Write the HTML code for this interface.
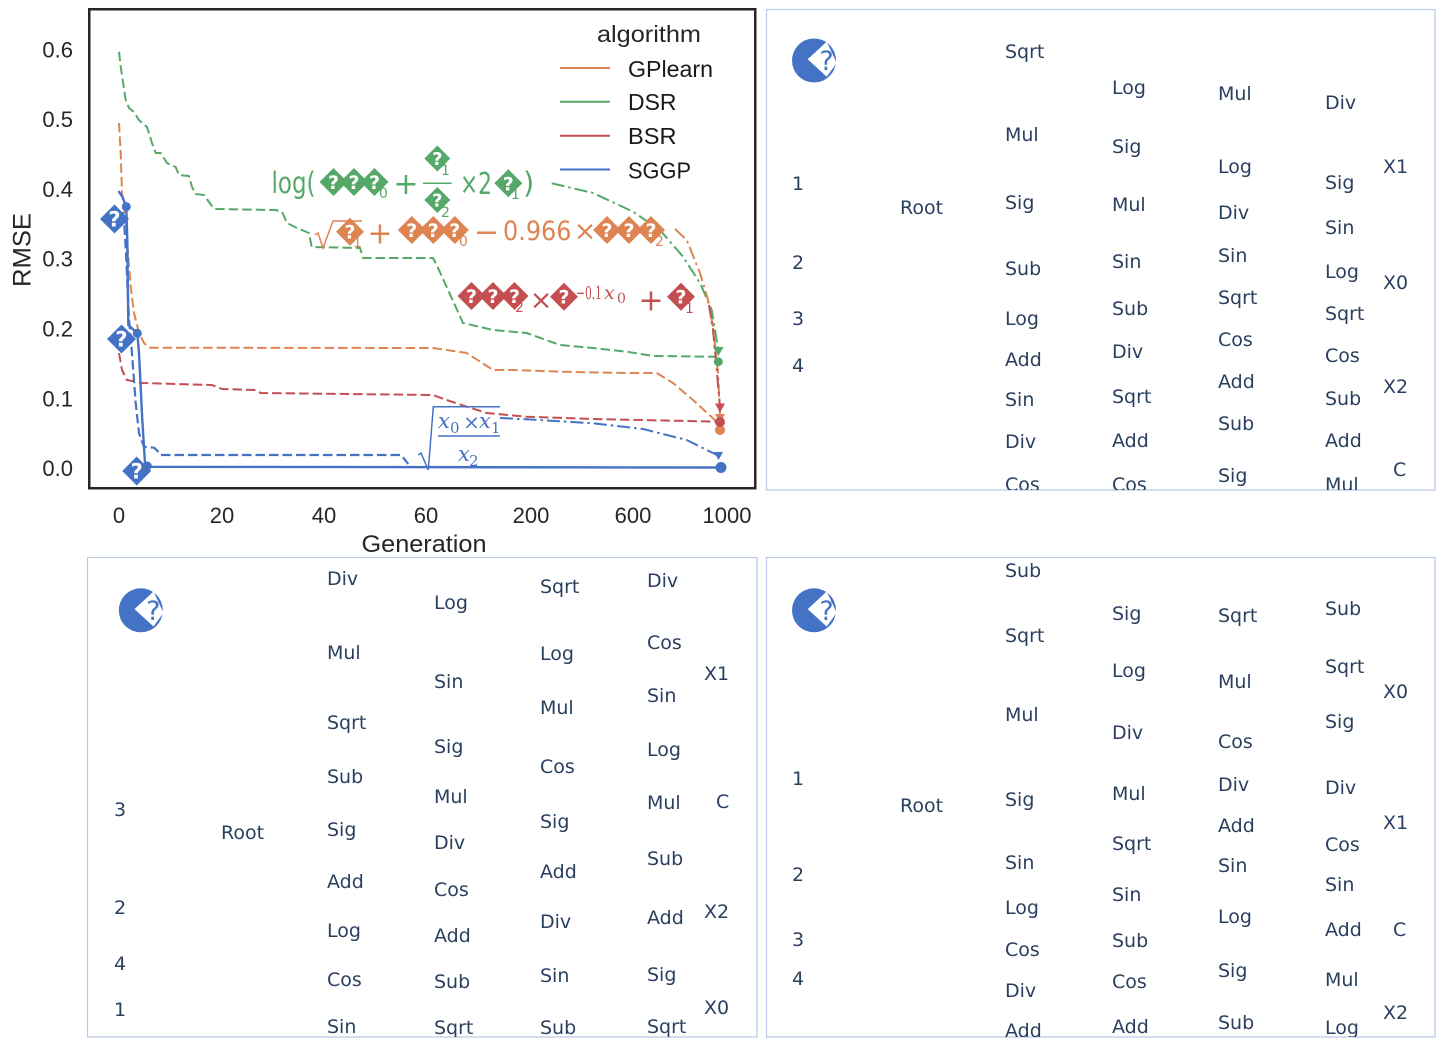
<!DOCTYPE html>
<html>
<head>
<meta charset="utf-8">
<style>
  html,body{margin:0;padding:0;background:#ffffff;}
  svg{display:block;}
  .tk{font-family:"Liberation Sans",Arial,sans-serif;font-size:22px;fill:#262626;}
  .pt{font-family:"DejaVu Sans","Liberation Sans",sans-serif;font-size:19px;fill:#2a3f5f;}
  .q{font-family:"DejaVu Sans","Liberation Sans",sans-serif;font-weight:bold;fill:#ffffff;text-anchor:middle;}
  .m{font-family:"DejaVu Sans","Liberation Sans",sans-serif;}
  .s{font-family:"DejaVu Serif","Liberation Serif",serif;}
</style>
</head>
<body>
<svg width="1436" height="1039" viewBox="0 0 1436 1039" xmlns="http://www.w3.org/2000/svg">
<defs>
  <clipPath id="c2"><rect x="766.5" y="9.5" width="668.5" height="480.5"/></clipPath>
  <clipPath id="c3"><rect x="87.5" y="557.5" width="669.5" height="479.5"/></clipPath>
  <clipPath id="c4"><rect x="766.5" y="557.5" width="668.5" height="479.5"/></clipPath>
</defs>

<!-- ================= CHART ================= -->
<g fill="none" stroke-linejoin="round">
  <path d="M119,51.7 L120.7,66.7 L125.7,100 L129,108 L134,112 L139,120 L147,127 L152,143 L155.7,153 L160.7,153 L167,163 L175.7,167 L179,175 L189,176 L192,187 L195.7,194 L204,195 L214,209 L275.7,210 L282,211.7 L287,223 L297,228 L309,233 L311.7,247 L360,248 L363,258 L433,258 L436.7,265 L463,323 L493,330 L526.7,333 L560,345 L593,348 L626.7,351.7 L653,356 L715,356.7 L718,361.7" stroke="#55a868" stroke-width="2" stroke-dasharray="9.5 4"/>
  <path d="M119,123 L120.7,153 L122,193 L125.7,220 L128,253 L130.7,287 L134,313 L139,333 L144,343 L149,347.7 L433,348 L446.7,350 L466.7,353 L493,370 L513,370 L560,371.7 L626.7,373 L656.7,373 L673,383 L693,400 L716.7,421.7 L720,430" stroke="#dd8452" stroke-width="2" stroke-dasharray="9.5 4"/>
  <path d="M119,353 L122,370 L127,380 L142,383 L212,385 L222,389 L255.7,390 L260.7,393 L433,395 L446.7,400 L466.7,406.7 L486.7,413 L526.7,416.7 L593,419 L720,421.7" stroke="#c44e52" stroke-width="2" stroke-dasharray="9.5 4"/>
  <path d="M123,212 L124,220 L126,253 L129,320 L130.7,336.7 L135.7,403 L139,433.3 L144,446.7 L154,447.7 L157.3,450.7 L160.7,455 L401,455 L403.5,458 L408.3,464" stroke="#4472c4" stroke-width="2.2" stroke-dasharray="9.5 4"/>
  <path d="M118.5,191 L122.3,196.7 L126.3,206.7 L127.3,240 L128.3,325 L137.3,333.3 L139,353 L142.3,420 L145,463 L147.3,466.8 L721,467.5" stroke="#4472c4" stroke-width="2.4"/>

  <path d="M551.7,183.3 L593,193 L633,211.7 L660,230 L683,256.7 L700,283 L711.7,310 L716.7,340 L718,350" stroke="#55a868" stroke-width="2" stroke-dasharray="13 4 2.5 4"/>
  <path d="M675,229 L686.7,240 L700,273 L708,300 L713,326.7 L718,373 L720,416" stroke="#dd8452" stroke-width="2" stroke-dasharray="13 4 2.5 4"/>
  <path d="M709,305 L713,330 L716,360 L718,385 L720,406" stroke="#c44e52" stroke-width="2" stroke-dasharray="13 4 2.5 4"/>
  <path d="M500,418 L526.7,419.3 L593.3,423.3 L643,429 L686.7,440 L706.7,450 L717,455" stroke="#4472c4" stroke-width="2" stroke-dasharray="13 4 2.5 4"/>
</g>

<!-- end markers -->
<polygon points="713,347 723.6,347 718.3,356" fill="#55a868"/>
<circle cx="718.3" cy="361.7" r="4.5" fill="#55a868"/>
<polygon points="715,403.5 725,403.5 720,412.5" fill="#c44e52"/>
<polygon points="715,414 725,414 720,423" fill="#dd8452"/>
<circle cx="720" cy="430" r="5" fill="#dd8452"/>
<circle cx="720" cy="422" r="5" fill="#c44e52"/>
<polygon points="714,452 723,452 718.5,460" fill="#4472c4"/>
<circle cx="721" cy="467.5" r="5.5" fill="#4472c4"/>
<circle cx="126.3" cy="206.7" r="4.5" fill="#4472c4"/>
<circle cx="137.3" cy="333.3" r="4.5" fill="#4472c4"/>
<circle cx="147.3" cy="466" r="4.5" fill="#4472c4"/>

<!-- SGGP diamond markers -->
<polygon points="100,219 114.5,204.5 129,219 114.5,233.5" fill="#4472c4"/><text class="q" x="114.5" y="226.5" font-size="21">?</text>
<polygon points="107,339 121.5,324.5 136,339 121.5,353.5" fill="#4472c4"/><text class="q" x="121.5" y="346.5" font-size="21">?</text>
<polygon points="122.2,471 136.7,456.5 151.2,471 136.7,485.5" fill="#4472c4"/><text class="q" x="136.7" y="478.5" font-size="21">?</text>

<!-- Green annotation -->
<g fill="#55a868">
  <text class="m" x="271.5" y="193" font-size="29" textLength="44" lengthAdjust="spacingAndGlyphs">log(</text>
  <polygon points="319.5,182 333.5,168 347.5,182 333.5,196"/><text class="q" x="333.5" y="189" font-size="19">?</text>
  <polygon points="340,182 354,168 368,182 354,196"/><text class="q" x="354" y="189" font-size="19">?</text>
  <polygon points="360.5,182 374.5,168 388.5,182 374.5,196"/><text class="q" x="374.5" y="189" font-size="19">?</text>
  <text class="m" x="379" y="198" font-size="14">0</text>
  <text class="m" x="406" y="194" font-size="30" text-anchor="middle">+</text>
  <line x1="423" y1="183.3" x2="451.7" y2="183.3" stroke="#55a868" stroke-width="1.5"/>
  <polygon points="424.3,158.5 437.3,145.5 450.3,158.5 437.3,171.5"/><text class="q" x="437.3" y="165" font-size="18">?</text>
  <text class="m" x="441" y="175" font-size="14">1</text>
  <polygon points="424.3,200 437.3,187 450.3,200 437.3,213"/><text class="q" x="437.3" y="206.5" font-size="18">?</text>
  <text class="m" x="441" y="217" font-size="14">2</text>
  <text class="m" x="460" y="194" font-size="30" textLength="32" lengthAdjust="spacingAndGlyphs">×2</text>
  <polygon points="494.3,183.3 508.3,169.3 522.3,183.3 508.3,197.3"/><text class="q" x="508.3" y="190.3" font-size="19">?</text>
  <text class="m" x="511" y="199" font-size="14">1</text>
  <text class="m" x="523" y="193" font-size="29">)</text>
</g>

<!-- Orange annotation -->
<g fill="#dd8452">
  <path d="M315,235 L318,233 L323,248 L333,221 L362,221" fill="none" stroke="#dd8452" stroke-width="1.5"/>
  <polygon points="336,231.7 350,217.7 364,231.7 350,245.7"/><text class="q" x="350" y="238.7" font-size="19">?</text>
  <text class="m" x="353" y="247" font-size="14">1</text>
  <text class="m" x="380" y="243.5" font-size="30" text-anchor="middle">+</text>
  <polygon points="397.8,230 411.8,216 425.8,230 411.8,244"/><text class="q" x="411.8" y="237" font-size="19">?</text>
  <polygon points="419.3,230 433.3,216 447.3,230 433.3,244"/><text class="q" x="433.3" y="237" font-size="19">?</text>
  <polygon points="440.8,230 454.8,216 468.8,230 454.8,244"/><text class="q" x="454.8" y="237" font-size="19">?</text>
  <text class="m" x="459" y="246" font-size="14">0</text>
  <text class="m" x="486.5" y="242" font-size="30" text-anchor="middle">−</text>
  <text class="m" x="503" y="240" font-size="27" textLength="68.5" lengthAdjust="spacingAndGlyphs">0.966</text>
  <text class="m" x="585" y="240" font-size="27" text-anchor="middle">×</text>
  <polygon points="593,230 607,216 621,230 607,244"/><text class="q" x="607" y="237" font-size="19">?</text>
  <polygon points="615,230 629,216 643,230 629,244"/><text class="q" x="629" y="237" font-size="19">?</text>
  <polygon points="637,230 651,216 665,230 651,244"/><text class="q" x="651" y="237" font-size="19">?</text>
  <text class="m" x="655" y="246" font-size="14">2</text>
</g>

<!-- Red annotation -->
<g fill="#c44e52">
  <polygon points="457.5,296 471.5,282 485.5,296 471.5,310"/><text class="q" x="471.5" y="303" font-size="19">?</text>
  <polygon points="479,296 493,282 507,296 493,310"/><text class="q" x="493" y="303" font-size="19">?</text>
  <polygon points="500.5,296 514.5,282 528.5,296 514.5,310"/><text class="q" x="514.5" y="303" font-size="19">?</text>
  <text class="m" x="515" y="312" font-size="14">2</text>
  <text class="m" x="541" y="309" font-size="27" text-anchor="middle">×</text>
  <polygon points="550,296.7 564,282.7 578,296.7 564,310.7"/><text class="q" x="564" y="303.7" font-size="19">?</text>
  <text class="s" x="576" y="299" font-size="18" textLength="26" lengthAdjust="spacingAndGlyphs">−0.1</text>
  <text class="s" x="604" y="299" font-size="19" font-style="italic">x</text>
  <text class="s" x="617" y="303" font-size="14">0</text>
  <text class="m" x="651" y="310.5" font-size="30" text-anchor="middle">+</text>
  <polygon points="667,296.7 681,282.7 695,296.7 681,310.7"/><text class="q" x="681" y="303.7" font-size="19">?</text>
  <text class="m" x="685" y="313" font-size="14">1</text>
</g>

<!-- Blue annotation -->
<g fill="#4472c4">
  <path d="M418.3,455 L421,453 L428.3,470 L433.3,406.7 L500,406.7" fill="none" stroke="#4472c4" stroke-width="1.5"/>
  <text class="s" x="438" y="428" font-size="21" font-style="italic">x</text>
  <text class="s" x="450" y="433" font-size="15">0</text>
  <text class="s" x="471.5" y="429" font-size="20" text-anchor="middle">×</text>
  <text class="s" x="479" y="428" font-size="21" font-style="italic">x</text>
  <text class="s" x="491" y="433" font-size="15">1</text>
  <line x1="438" y1="436" x2="500" y2="436" stroke="#4472c4" stroke-width="1.5"/>
  <text class="s" x="458" y="461" font-size="21" font-style="italic">x</text>
  <text class="s" x="469" y="466" font-size="15">2</text>
</g>

<!-- Legend -->
<text x="649" y="42" font-family="Liberation Sans, Arial, sans-serif" font-size="23" fill="#262626" text-anchor="middle" textLength="104" lengthAdjust="spacingAndGlyphs">algorithm</text>
<line x1="560" y1="68" x2="610" y2="68" stroke="#dd8452" stroke-width="2"/>
<line x1="560" y1="101.7" x2="610" y2="101.7" stroke="#55a868" stroke-width="2"/>
<line x1="560" y1="135.7" x2="610" y2="135.7" stroke="#c44e52" stroke-width="2"/>
<line x1="560" y1="169.5" x2="610" y2="169.5" stroke="#4472c4" stroke-width="2"/>
<g font-family="Liberation Sans, Arial, sans-serif" font-size="23" fill="#1a1a1a">
  <text x="628" y="77" textLength="85" lengthAdjust="spacingAndGlyphs">GPlearn</text>
  <text x="628" y="110" textLength="48.5" lengthAdjust="spacingAndGlyphs">DSR</text>
  <text x="628" y="144" textLength="48.5" lengthAdjust="spacingAndGlyphs">BSR</text>
  <text x="628" y="178.5" textLength="63" lengthAdjust="spacingAndGlyphs">SGGP</text>
</g>

<!-- Frame -->
<rect x="89.25" y="9.25" width="666" height="479" fill="none" stroke="#262626" stroke-width="2.5"/>

<!-- Y ticks -->
<g class="tk" text-anchor="end">
  <text x="73" y="57.3">0.6</text>
  <text x="73" y="127.1">0.5</text>
  <text x="73" y="196.9">0.4</text>
  <text x="73" y="266.7">0.3</text>
  <text x="73" y="336.5">0.2</text>
  <text x="73" y="406.3">0.1</text>
  <text x="73" y="476.1">0.0</text>
</g>
<!-- X ticks -->
<g class="tk" text-anchor="middle">
  <text x="119" y="523">0</text>
  <text x="222" y="523">20</text>
  <text x="324" y="523">40</text>
  <text x="426" y="523">60</text>
  <text x="531" y="523">200</text>
  <text x="633" y="523">600</text>
  <text x="727" y="523">1000</text>
</g>
<text x="424" y="552" font-family="Liberation Sans, Arial, sans-serif" font-size="24" fill="#262626" text-anchor="middle" textLength="125" lengthAdjust="spacingAndGlyphs">Generation</text>
<text transform="translate(30.5,250) rotate(-90)" font-family="Liberation Sans, Arial, sans-serif" font-size="25" fill="#262626" text-anchor="middle" textLength="74" lengthAdjust="spacingAndGlyphs">RMSE</text>

<!-- ================= PANEL 2 (top right) ================= -->
<rect x="766.5" y="9.5" width="668.5" height="480.5" fill="none" stroke="#b9c9e6" stroke-width="1.2"/>
<g clip-path="url(#c2)">
  <circle cx="814" cy="60.5" r="22" fill="#4472c4"/>
  <polygon points="807.7,59.3 826.7,41.7 836.7,63 826.7,76.7" fill="#ffffff"/>
  <text x="826.5" y="70" font-family="DejaVu Sans, sans-serif" font-size="27" fill="#4472c4" text-anchor="middle">?</text>
  <g class="pt">
    <text x="1005" y="58">Sqrt</text><text x="1005" y="141">Mul</text><text x="1005" y="209">Sig</text><text x="1005" y="275">Sub</text><text x="1005" y="325">Log</text><text x="1005" y="366">Add</text><text x="1005" y="406">Sin</text><text x="1005" y="448">Div</text><text x="1005" y="491">Cos</text>
    <text x="1112" y="94">Log</text><text x="1112" y="153">Sig</text><text x="1112" y="211">Mul</text><text x="1112" y="268">Sin</text><text x="1112" y="315">Sub</text><text x="1112" y="358">Div</text><text x="1112" y="403">Sqrt</text><text x="1112" y="447">Add</text><text x="1112" y="491">Cos</text>
    <text x="1218" y="100">Mul</text><text x="1218" y="173">Log</text><text x="1218" y="219">Div</text><text x="1218" y="262">Sin</text><text x="1218" y="304">Sqrt</text><text x="1218" y="346">Cos</text><text x="1218" y="388">Add</text><text x="1218" y="430">Sub</text><text x="1218" y="482">Sig</text>
    <text x="1325" y="109">Div</text><text x="1325" y="189">Sig</text><text x="1325" y="234">Sin</text><text x="1325" y="278">Log</text><text x="1325" y="320">Sqrt</text><text x="1325" y="362">Cos</text><text x="1325" y="405">Sub</text><text x="1325" y="447">Add</text><text x="1325" y="491">Mul</text>
    <text x="1383" y="173">X1</text><text x="1383" y="289">X0</text><text x="1383" y="393">X2</text><text x="1393" y="476">C</text>
    <text x="792" y="190">1</text><text x="792" y="269">2</text><text x="792" y="325">3</text><text x="792" y="372">4</text>
    <text x="900" y="214">Root</text>
  </g>
</g>

<!-- ================= PANEL 3 (bottom left) ================= -->
<rect x="87.5" y="557.5" width="669.5" height="479.5" fill="none" stroke="#b9c9e6" stroke-width="1.2"/>
<g clip-path="url(#c3)">
  <circle cx="140.8" cy="610.3" r="22" fill="#4472c4"/>
  <polygon points="134.5,609.1 153.5,591.5 163.5,612.8 153.5,626.5" fill="#ffffff"/>
  <text x="153.3" y="619.8" font-family="DejaVu Sans, sans-serif" font-size="27" fill="#4472c4" text-anchor="middle">?</text>
  <g class="pt">
    <text x="327" y="585">Div</text><text x="327" y="659">Mul</text><text x="327" y="729">Sqrt</text><text x="327" y="783">Sub</text><text x="327" y="836">Sig</text><text x="327" y="888">Add</text><text x="327" y="937">Log</text><text x="327" y="986">Cos</text><text x="327" y="1033">Sin</text>
    <text x="434" y="609">Log</text><text x="434" y="688">Sin</text><text x="434" y="753">Sig</text><text x="434" y="803">Mul</text><text x="434" y="849">Div</text><text x="434" y="896">Cos</text><text x="434" y="942">Add</text><text x="434" y="988">Sub</text><text x="434" y="1034">Sqrt</text>
    <text x="540" y="593">Sqrt</text><text x="540" y="660">Log</text><text x="540" y="714">Mul</text><text x="540" y="773">Cos</text><text x="540" y="828">Sig</text><text x="540" y="878">Add</text><text x="540" y="928">Div</text><text x="540" y="982">Sin</text><text x="540" y="1034">Sub</text>
    <text x="647" y="587">Div</text><text x="647" y="649">Cos</text><text x="647" y="702">Sin</text><text x="647" y="756">Log</text><text x="647" y="809">Mul</text><text x="647" y="865">Sub</text><text x="647" y="924">Add</text><text x="647" y="981">Sig</text><text x="647" y="1033">Sqrt</text>
    <text x="704" y="680">X1</text><text x="716" y="808">C</text><text x="704" y="918">X2</text><text x="704" y="1014">X0</text>
    <text x="114" y="816">3</text><text x="114" y="914">2</text><text x="114" y="970">4</text><text x="114" y="1016">1</text>
    <text x="221" y="839">Root</text>
  </g>
</g>

<!-- ================= PANEL 4 (bottom right) ================= -->
<rect x="766.5" y="557.5" width="668.5" height="479.5" fill="none" stroke="#b9c9e6" stroke-width="1.2"/>
<g clip-path="url(#c4)">
  <circle cx="814" cy="610.3" r="22" fill="#4472c4"/>
  <polygon points="807.7,609.1 826.7,591.5 836.7,612.8 826.7,626.5" fill="#ffffff"/>
  <text x="826.5" y="619.8" font-family="DejaVu Sans, sans-serif" font-size="27" fill="#4472c4" text-anchor="middle">?</text>
  <g class="pt">
    <text x="1005" y="577">Sub</text><text x="1005" y="642">Sqrt</text><text x="1005" y="721">Mul</text><text x="1005" y="806">Sig</text><text x="1005" y="869">Sin</text><text x="1005" y="914">Log</text><text x="1005" y="956">Cos</text><text x="1005" y="997">Div</text><text x="1005" y="1037">Add</text>
    <text x="1112" y="620">Sig</text><text x="1112" y="677">Log</text><text x="1112" y="739">Div</text><text x="1112" y="800">Mul</text><text x="1112" y="850">Sqrt</text><text x="1112" y="901">Sin</text><text x="1112" y="947">Sub</text><text x="1112" y="988">Cos</text><text x="1112" y="1033">Add</text>
    <text x="1218" y="622">Sqrt</text><text x="1218" y="688">Mul</text><text x="1218" y="748">Cos</text><text x="1218" y="791">Div</text><text x="1218" y="832">Add</text><text x="1218" y="872">Sin</text><text x="1218" y="923">Log</text><text x="1218" y="977">Sig</text><text x="1218" y="1029">Sub</text>
    <text x="1325" y="615">Sub</text><text x="1325" y="673">Sqrt</text><text x="1325" y="728">Sig</text><text x="1325" y="794">Div</text><text x="1325" y="851">Cos</text><text x="1325" y="891">Sin</text><text x="1325" y="936">Add</text><text x="1325" y="986">Mul</text><text x="1325" y="1034">Log</text>
    <text x="1383" y="698">X0</text><text x="1383" y="829">X1</text><text x="1393" y="936">C</text><text x="1383" y="1019">X2</text>
    <text x="792" y="785">1</text><text x="792" y="881">2</text><text x="792" y="946">3</text><text x="792" y="985">4</text>
    <text x="900" y="812">Root</text>
  </g>
</g>
</svg>
</body>
</html>
